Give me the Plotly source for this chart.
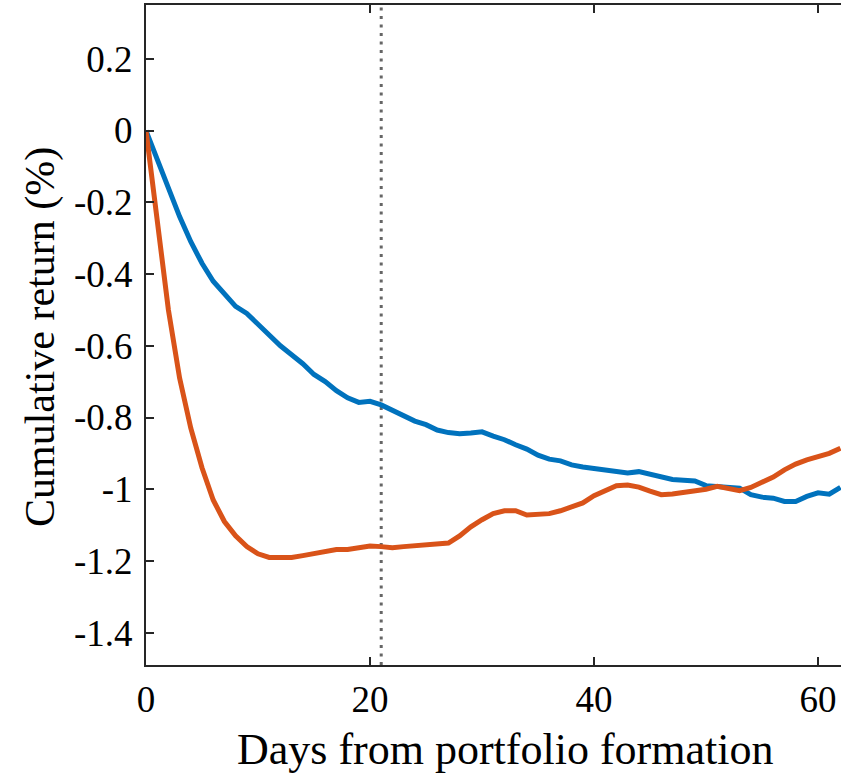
import plotly.graph_objects as go

days = list(range(0, 63))

blue_series = [
    0.0, -0.08, -0.16, -0.24, -0.31, -0.37, -0.42, -0.455, -0.49, -0.51,
    -0.54, -0.57, -0.60, -0.625, -0.65, -0.68, -0.70, -0.725, -0.745, -0.758,
    -0.755, -0.765, -0.78, -0.795, -0.81, -0.82, -0.835, -0.842, -0.845, -0.843,
    -0.84, -0.852, -0.862, -0.876, -0.888, -0.905, -0.916, -0.921, -0.932, -0.938,
    -0.942, -0.945, -0.948, -0.955, -0.951, -0.958, -0.966, -0.973, -0.975, -0.977,
    -0.99, -0.992, -0.993, -0.997, -1.015, -1.022, -1.025, -1.034, -1.034, -1.02,
    -1.01, -1.014, -0.995,
]

orange_series = [
    0.0, -0.26, -0.50, -0.69, -0.83, -0.94, -1.03, -1.09, -1.13, -1.16,
    -1.18, -1.19, -1.19, -1.19, -1.185, -1.18, -1.172, -1.168, -1.168, -1.163,
    -1.158, -1.16, -1.163, -1.16, -1.157, -1.153, -1.153, -1.15, -1.13, -1.105,
    -1.085, -1.068, -1.06, -1.06, -1.072, -1.07, -1.068, -1.06, -1.05, -1.038,
    -1.018, -1.005, -0.99, -0.988, -0.994, -1.005, -1.015, -1.013, -1.008, -1.006,
    -1.0, -0.992, -0.998, -1.004, -0.995, -0.982, -0.966, -0.946, -0.93, -0.918,
    -0.91, -0.9, -0.886,
]

marker_day = 21
x_ticks = [0, 20, 40, 60]
y_ticks = [0.2, 0.0, -0.2, -0.4, -0.6, -0.8, -1.0, -1.2, -1.4]
y_tick_text = ["0.2", "0", "-0.2", "-0.4", "-0.6", "-0.8", "-1", "-1.2", "-1.4"]

FONT = "Liberation Serif"
AX = "#262626"

fig = go.Figure()
fig.add_trace(go.Scatter(x=days, y=blue_series, mode="lines",
                         line=dict(color="#0072BD", width=5), showlegend=False))
fig.add_trace(go.Scatter(x=days, y=orange_series, mode="lines",
                         line=dict(color="#D95319", width=5), showlegend=False))

fig.add_shape(type="line", xref="x", yref="paper", x0=marker_day, x1=marker_day,
              y0=0, y1=1, line=dict(color="#666666", width=3, dash="3px,5.5px"), layer="below")

fig.update_layout(
    width=841, height=773,
    margin=dict(l=146, r=0, t=5, b=108),
    paper_bgcolor="white", plot_bgcolor="white",
    font=dict(family=FONT, color="#000000", size=37),
)
fig.update_xaxes(
    range=[0, 62.05], tickvals=x_ticks, ticktext=[str(v) for v in x_ticks],
    showgrid=False, zeroline=False, showline=True, linecolor=AX, linewidth=2,
    mirror="ticks", ticks="inside", ticklen=8, tickwidth=2, tickcolor=AX,
    tickfont=dict(family=FONT, size=37), ticklabelstandoff=1,
)
fig.update_yaxes(
    range=[-1.49, 0.35], tickvals=y_ticks, ticktext=y_tick_text,
    showgrid=False, zeroline=False, showline=True, linecolor=AX, linewidth=2,
    mirror=False, ticks="inside", ticklen=8, tickwidth=2, tickcolor=AX,
    tickfont=dict(family=FONT, size=37), ticklabelstandoff=4,
)

fig.add_annotation(text="Days from portfolio formation", xref="paper", yref="paper",
                   x=(505 - 146) / 695, y=-(749 - 665) / 660, xanchor="center", yanchor="middle",
                   showarrow=False, font=dict(family=FONT, size=44, color="#000000"))
fig.add_annotation(text="Cumulative return (%)", xref="paper", yref="paper",
                   x=-(146 - 40) / 695, y=(665 - 337) / 660, xanchor="center", yanchor="middle",
                   textangle=-90, showarrow=False, font=dict(family=FONT, size=42, color="#000000"))

fig.write_html("out.html")
